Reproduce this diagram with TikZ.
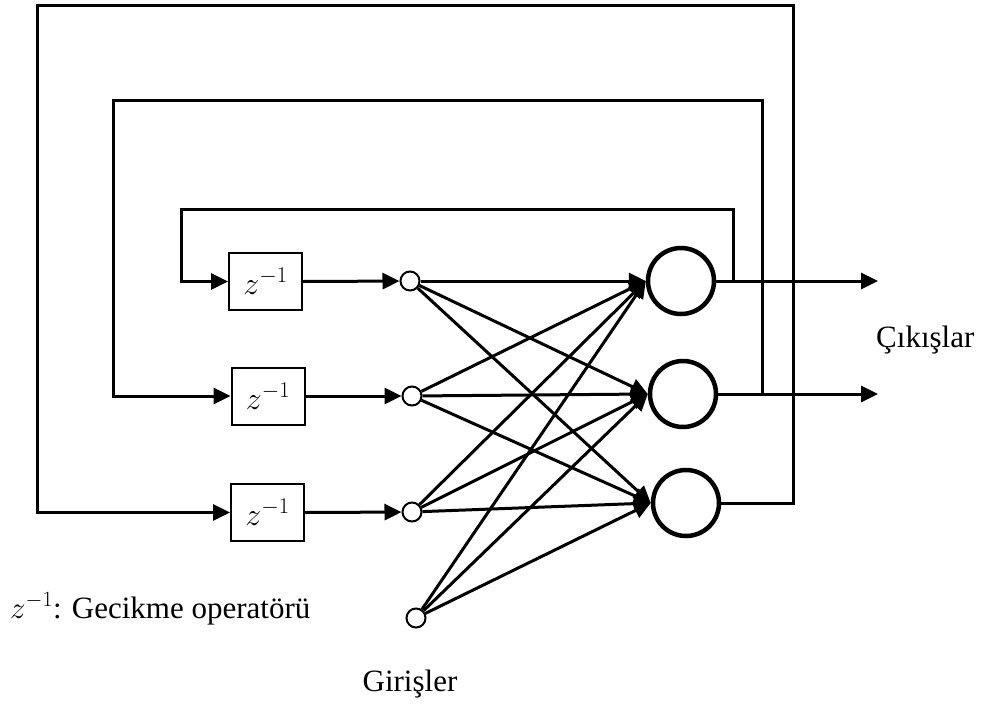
\documentclass[tikz,border=0pt]{standalone}
\usepackage{fix-cm}
\usepackage{fontspec}
\setmainfont{Liberation Serif}
\usetikzlibrary{arrows.meta}
\begin{document}
\begin{tikzpicture}[x=1pt,y=-1pt,
  arr/.style={line width=3pt,-{Triangle[length=17pt,width=16pt]}},
  delaybox/.style={draw,line width=2pt,minimum width=73pt,minimum height=57pt,inner sep=0pt,font=\fontsize{32}{38}\selectfont},
  inp/.style={draw,circle,line width=2pt,fill=white,minimum size=19pt,inner sep=0pt},
  neuron/.style={draw,circle,line width=4.5pt,fill=white,minimum size=66pt,inner sep=0pt},
  lbl/.style={font=\fontsize{31}{37}\selectfont,inner sep=0pt}]
\useasboundingbox (0,0) rectangle (987,707);
% delay boxes
\node[delaybox] (b1) at (265.5,281.5) {$z^{-1}$};
\node[delaybox] (b2) at (268,396) {$z^{-1}$};
\node[delaybox] (b3) at (267.5,512.5) {$z^{-1}$};
% input nodes
\node[inp] (i1) at (410,281) {};
\node[inp] (i2) at (412,396) {};
\node[inp] (i3) at (412,512) {};
\node[inp] (i4) at (416,618) {};
% neurons
\node[neuron] (n1) at (681,281) {};
\node[neuron] (n2) at (683,394) {};
\node[neuron] (n3) at (686,503) {};
% coordinates
\coordinate (o1) at (878,281);
\coordinate (o2) at (878,394);
\coordinate (f1) at (733,281);
\coordinate (f2) at (762,394);
\coordinate (f3) at (793,503);
\coordinate (t1) at (181,209);
\coordinate (t2) at (113,100);
\coordinate (t3) at (37,5);
% feedback loops
\draw[arr] (f1) |- (t1) |- (b1.west);
\draw[arr] (f2) |- (t2) |- (b2.west);
\draw[arr] (n3.east) -- (f3) |- (t3) |- (b3.west);
% outputs
\draw[arr] (n1.east) -- (o1);
\draw[arr] (n2.east) -- (o2);
% delay to inputs
\draw[arr] (b1.east) -- (i1);
\draw[arr] (b2.east) -- (i2);
\draw[arr] (b3.east) -- (i3);
% full connections
\foreach \i in {1,2,3,4}{
  \foreach \n in {1,2,3}{
    \draw[arr] (i\i) -- (n\n.west);
  }
}
% labels
\node[lbl,anchor=base west] (outl) at (876,347) {Çıkışlar};
\node[lbl,anchor=base west] (leg) at (10,618) {$z^{-1}$: Gecikme operatörü};
\node[lbl,anchor=base] (inl) at (410,691) {Girişler};
\end{tikzpicture}
\end{document}
